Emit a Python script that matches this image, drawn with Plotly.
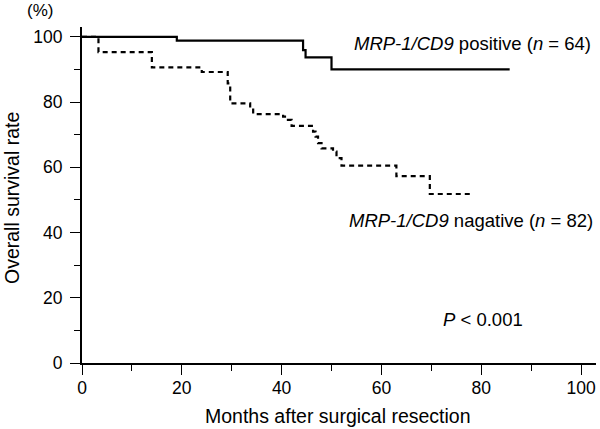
import plotly.graph_objects as go

# Kaplan-Meier steps (months, %)
pos_months = [0, 19, 44.3, 44.8, 50, 85.7]
pos_surv = [100, 98.8, 95.9, 93.7, 90.0, 90.0]

neg_months = [0, 3.3, 14, 24, 29.2, 29.7, 33.7, 34.3, 40.3, 41, 42, 46.3, 46.8, 47.3, 48, 50.3, 51, 52, 63, 69.7, 78]
neg_surv = [100, 95.3, 90.6, 89.2, 85.7, 79.6, 78.2, 76.3, 75.5, 74.5, 72.7, 70.9, 69.4, 67.4, 65.8, 64.8, 62.8, 60.5, 57.3, 51.8, 51.8]

font = "Liberation Sans, Arial, Helvetica, sans-serif"

fig = go.Figure()
fig.add_trace(go.Scatter(x=pos_months, y=pos_surv, mode="lines", line_shape="hv",
                         line=dict(color="black", width=2.2), name="positive"))
fig.add_trace(go.Scatter(x=neg_months, y=neg_surv, mode="lines", line_shape="hv",
                         line=dict(color="black", width=2.2, dash="5px,4px"), name="negative"))

axis = dict(
    showgrid=False, zeroline=False,
    showline=True, linecolor="black", linewidth=2,
    ticks="outside", ticklen=10, tickwidth=1.3, tickcolor="black",
    dtick=20, tick0=0,
    minor=dict(dtick=10, ticks="outside", ticklen=6, tickwidth=1.3, tickcolor="black"),
    tickfont=dict(size=17.5, color="black", family=font),
)

fig.update_layout(
    width=600, height=429,
    margin=dict(l=82, r=4, t=27, b=66),
    paper_bgcolor="white", plot_bgcolor="white",
    showlegend=False,
    font=dict(family=font, color="black", size=17),
    xaxis=dict(axis, range=[0, 103], ticklabelstandoff=-2),
    yaxis=dict(axis, range=[0, 103], ticklabelstandoff=4),
)

ann = [
    dict(text="(%)", x=40, y=11, size=17),
    dict(text="Months after surgical resection", x=338, y=416, size=19.5),
    dict(text="Overall survival rate", x=12, y=198, size=19.5, textangle=-90),
    dict(text="<i>MRP-1/CD9</i> positive (<i>n</i> = 64)", x=593, y=43, size=18.5, xanchor="right"),
    dict(text="<i>MRP-1/CD9</i> nagative (<i>n</i> = 82)", x=595, y=220, size=18.5, xanchor="right"),
    dict(text="<i>P</i> < 0.001", x=525, y=319, size=18.5, xanchor="right"),
]
pw, ph = 600 - 82 - 4, 429 - 27 - 66
for a in ann:
    fig.add_annotation(
        text=a["text"], showarrow=False,
        xref="paper", yref="paper",
        x=(a["x"] - 82) / pw, y=(429 - 66 - a["y"]) / ph,
        xanchor=a.get("xanchor", "center"), yanchor="middle",
        textangle=a.get("textangle", 0),
        font=dict(size=a["size"], color="black", family=font),
    )

fig.write_html("out.html", config={"displayModeBar": False},
               post_script="document.body.style.margin='0px';")
